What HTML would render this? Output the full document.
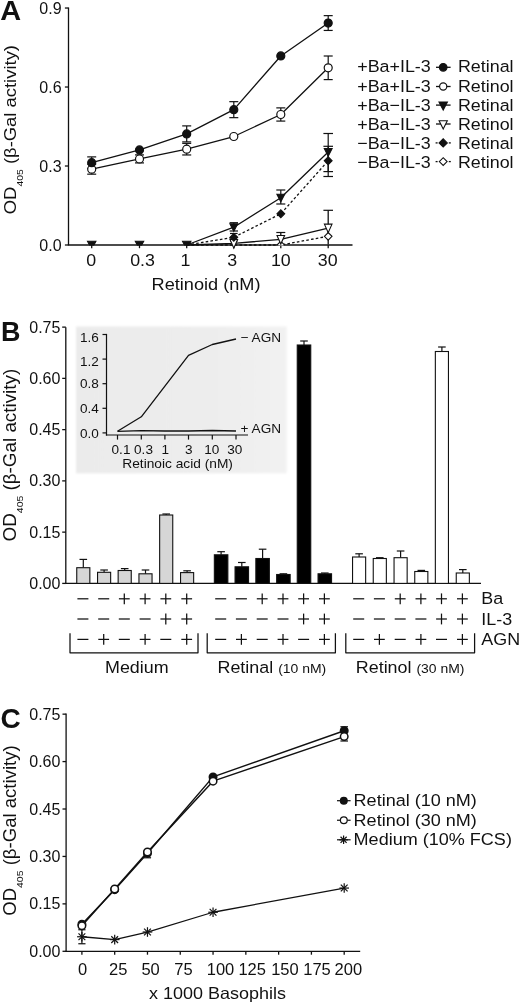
<!DOCTYPE html>
<html><head><meta charset="utf-8"><title>Figure</title>
<style>
html,body{margin:0;padding:0;background:#fff;}
svg{display:block;will-change:transform;filter:grayscale(1)}
text{font-family:"Liberation Sans", sans-serif;fill:#111}
</style></head><body>
<svg width="520" height="1004" viewBox="0 0 520 1004">
<rect x="0" y="0" width="520" height="1004" fill="#fff"/>
<text transform="translate(0.30 20.20) scale(1.05 1)" font-size="27.5" text-anchor="start" font-weight="bold">A</text>
<line x1="68.50" y1="7.50" x2="68.50" y2="245.00" stroke="#111" stroke-width="1.3" />
<line x1="67.85" y1="245.00" x2="352.50" y2="245.00" stroke="#111" stroke-width="1.3" />
<line x1="64.90" y1="8.03" x2="68.50" y2="8.03" stroke="#111" stroke-width="1.3" />
<text transform="translate(61.60 13.53) scale(1.0 1)" font-size="16.0" text-anchor="end" >0.9</text>
<line x1="64.90" y1="87.02" x2="68.50" y2="87.02" stroke="#111" stroke-width="1.3" />
<text transform="translate(61.60 92.52) scale(1.0 1)" font-size="16.0" text-anchor="end" >0.6</text>
<line x1="64.90" y1="166.01" x2="68.50" y2="166.01" stroke="#111" stroke-width="1.3" />
<text transform="translate(61.60 171.51) scale(1.0 1)" font-size="16.0" text-anchor="end" >0.3</text>
<line x1="64.90" y1="245.00" x2="68.50" y2="245.00" stroke="#111" stroke-width="1.3" />
<text transform="translate(61.60 250.50) scale(1.0 1)" font-size="16.0" text-anchor="end" >0.0</text>
<line x1="91.70" y1="245.00" x2="91.70" y2="248.20" stroke="#111" stroke-width="1.3" />
<text transform="translate(91.20 266.20) scale(1.08 1)" font-size="16.5" text-anchor="middle" >0</text>
<line x1="139.50" y1="245.00" x2="139.50" y2="248.20" stroke="#111" stroke-width="1.3" />
<text transform="translate(142.50 266.20) scale(1.08 1)" font-size="16.5" text-anchor="middle" >0.3</text>
<line x1="186.70" y1="245.00" x2="186.70" y2="248.20" stroke="#111" stroke-width="1.3" />
<text transform="translate(185.40 266.20) scale(1.08 1)" font-size="16.5" text-anchor="middle" >1</text>
<line x1="233.80" y1="245.00" x2="233.80" y2="248.20" stroke="#111" stroke-width="1.3" />
<text transform="translate(232.30 266.20) scale(1.08 1)" font-size="16.5" text-anchor="middle" >3</text>
<line x1="280.80" y1="245.00" x2="280.80" y2="248.20" stroke="#111" stroke-width="1.3" />
<text transform="translate(280.80 266.20) scale(1.08 1)" font-size="16.5" text-anchor="middle" >10</text>
<line x1="328.20" y1="245.00" x2="328.20" y2="248.20" stroke="#111" stroke-width="1.3" />
<text transform="translate(327.70 266.20) scale(1.08 1)" font-size="16.5" text-anchor="middle" >30</text>
<text transform="translate(206.00 290.00) scale(1.05 1)" font-size="17.3" text-anchor="middle" >Retinoid (nM)</text>
<text transform="translate(16.3,214.2) rotate(-90) scale(1.065 1)" font-size="17.3">OD<tspan font-size="9.8" dy="6.2">405</tspan><tspan dy="-6.2"> (β-Gal activity)</tspan></text>
<clipPath id="clipA"><rect x="60" y="0" width="300" height="245.4"/></clipPath>
<polyline points="91.70,169.17 139.50,158.90 186.70,149.16 233.80,136.52 280.80,114.48 328.20,67.80" fill="none" stroke="#111" stroke-width="1.3" stroke-linejoin="round" />
<polyline points="91.70,162.69 139.50,149.95 186.70,133.89 233.80,109.66 280.80,55.95 328.20,23.04" fill="none" stroke="#111" stroke-width="1.3" stroke-linejoin="round" />
<polyline points="186.70,245.00 233.80,227.20 280.80,197.74 328.20,152.06" fill="none" stroke="#111" stroke-width="1.3" stroke-linejoin="round" />
<polyline points="186.70,245.00 233.80,243.42 280.80,239.31 328.20,228.02" fill="none" stroke="#111" stroke-width="1.3" stroke-linejoin="round" />
<polyline points="186.70,245.00 233.80,237.31 280.80,213.80 328.20,160.74" fill="none" stroke="#111" stroke-width="1.3" stroke-linejoin="round" stroke-dasharray="2.6 2.2"/>
<polyline points="186.70,245.00 233.80,245.00 280.80,245.00 328.20,236.31" fill="none" stroke="#111" stroke-width="1.3" stroke-linejoin="round" stroke-dasharray="2.6 2.2"/>
<line x1="91.70" y1="156.89" x2="91.70" y2="168.49" stroke="#111" stroke-width="1.2" />
<line x1="87.20" y1="156.89" x2="96.20" y2="156.89" stroke="#111" stroke-width="1.2" />
<line x1="87.20" y1="168.49" x2="96.20" y2="168.49" stroke="#111" stroke-width="1.2" />
<line x1="186.70" y1="125.89" x2="186.70" y2="141.89" stroke="#111" stroke-width="1.2" />
<line x1="182.20" y1="125.89" x2="191.20" y2="125.89" stroke="#111" stroke-width="1.2" />
<line x1="182.20" y1="141.89" x2="191.20" y2="141.89" stroke="#111" stroke-width="1.2" />
<line x1="233.80" y1="101.66" x2="233.80" y2="117.66" stroke="#111" stroke-width="1.2" />
<line x1="229.30" y1="101.66" x2="238.30" y2="101.66" stroke="#111" stroke-width="1.2" />
<line x1="229.30" y1="117.66" x2="238.30" y2="117.66" stroke="#111" stroke-width="1.2" />
<line x1="328.20" y1="15.64" x2="328.20" y2="30.44" stroke="#111" stroke-width="1.2" />
<line x1="323.70" y1="15.64" x2="332.70" y2="15.64" stroke="#111" stroke-width="1.2" />
<line x1="323.70" y1="30.44" x2="332.70" y2="30.44" stroke="#111" stroke-width="1.2" />
<line x1="91.70" y1="164.17" x2="91.70" y2="174.17" stroke="#111" stroke-width="1.2" />
<line x1="87.20" y1="164.17" x2="96.20" y2="164.17" stroke="#111" stroke-width="1.2" />
<line x1="87.20" y1="174.17" x2="96.20" y2="174.17" stroke="#111" stroke-width="1.2" />
<line x1="139.50" y1="154.90" x2="139.50" y2="162.90" stroke="#111" stroke-width="1.2" />
<line x1="135.00" y1="154.90" x2="144.00" y2="154.90" stroke="#111" stroke-width="1.2" />
<line x1="135.00" y1="162.90" x2="144.00" y2="162.90" stroke="#111" stroke-width="1.2" />
<line x1="186.70" y1="143.36" x2="186.70" y2="154.96" stroke="#111" stroke-width="1.2" />
<line x1="182.20" y1="143.36" x2="191.20" y2="143.36" stroke="#111" stroke-width="1.2" />
<line x1="182.20" y1="154.96" x2="191.20" y2="154.96" stroke="#111" stroke-width="1.2" />
<line x1="280.80" y1="107.88" x2="280.80" y2="121.08" stroke="#111" stroke-width="1.2" />
<line x1="276.30" y1="107.88" x2="285.30" y2="107.88" stroke="#111" stroke-width="1.2" />
<line x1="276.30" y1="121.08" x2="285.30" y2="121.08" stroke="#111" stroke-width="1.2" />
<line x1="328.20" y1="56.00" x2="328.20" y2="79.60" stroke="#111" stroke-width="1.2" />
<line x1="323.70" y1="56.00" x2="332.70" y2="56.00" stroke="#111" stroke-width="1.2" />
<line x1="323.70" y1="79.60" x2="332.70" y2="79.60" stroke="#111" stroke-width="1.2" />
<line x1="233.80" y1="222.70" x2="233.80" y2="231.00" stroke="#111" stroke-width="1.2" />
<line x1="229.60" y1="222.70" x2="238.00" y2="222.70" stroke="#111" stroke-width="1.2" />
<line x1="229.60" y1="231.00" x2="238.00" y2="231.00" stroke="#111" stroke-width="1.2" />
<line x1="280.80" y1="190.00" x2="280.80" y2="204.00" stroke="#111" stroke-width="1.2" />
<line x1="276.30" y1="190.00" x2="285.30" y2="190.00" stroke="#111" stroke-width="1.2" />
<line x1="276.30" y1="204.00" x2="285.30" y2="204.00" stroke="#111" stroke-width="1.2" />
<line x1="328.20" y1="133.50" x2="328.20" y2="171.60" stroke="#111" stroke-width="1.2" />
<line x1="323.40" y1="133.50" x2="333.00" y2="133.50" stroke="#111" stroke-width="1.2" />
<line x1="323.40" y1="171.60" x2="333.00" y2="171.60" stroke="#111" stroke-width="1.2" />
<line x1="328.20" y1="146.30" x2="328.20" y2="176.50" stroke="#111" stroke-width="1.2" />
<line x1="323.40" y1="146.30" x2="333.00" y2="146.30" stroke="#111" stroke-width="1.2" />
<line x1="323.40" y1="176.50" x2="333.00" y2="176.50" stroke="#111" stroke-width="1.2" />
<line x1="233.80" y1="233.50" x2="233.80" y2="241.00" stroke="#111" stroke-width="1.2" />
<line x1="230.00" y1="233.50" x2="237.60" y2="233.50" stroke="#111" stroke-width="1.2" />
<line x1="230.00" y1="241.00" x2="237.60" y2="241.00" stroke="#111" stroke-width="1.2" />
<line x1="280.80" y1="232.50" x2="280.80" y2="239.00" stroke="#111" stroke-width="1.3" />
<line x1="276.30" y1="232.50" x2="285.30" y2="232.50" stroke="#111" stroke-width="1.2" />
<line x1="328.20" y1="210.30" x2="328.20" y2="227.00" stroke="#111" stroke-width="1.3" />
<line x1="323.40" y1="210.30" x2="333.00" y2="210.30" stroke="#111" stroke-width="1.2" />
<line x1="328.20" y1="228.00" x2="328.20" y2="244.50" stroke="#111" stroke-width="1.3" />
<circle cx="91.70" cy="169.17" r="4.0" fill="#fff" stroke="#111" stroke-width="1.2"/>
<circle cx="139.50" cy="158.90" r="4.0" fill="#fff" stroke="#111" stroke-width="1.2"/>
<circle cx="186.70" cy="149.16" r="4.0" fill="#fff" stroke="#111" stroke-width="1.2"/>
<circle cx="233.80" cy="136.52" r="4.0" fill="#fff" stroke="#111" stroke-width="1.2"/>
<circle cx="280.80" cy="114.48" r="4.0" fill="#fff" stroke="#111" stroke-width="1.2"/>
<circle cx="328.20" cy="67.80" r="4.0" fill="#fff" stroke="#111" stroke-width="1.2"/>
<circle cx="91.70" cy="162.69" r="4.0" fill="#111" stroke="#111" stroke-width="1.2"/>
<circle cx="139.50" cy="149.95" r="4.0" fill="#111" stroke="#111" stroke-width="1.2"/>
<circle cx="186.70" cy="133.89" r="4.0" fill="#111" stroke="#111" stroke-width="1.2"/>
<circle cx="233.80" cy="109.66" r="4.0" fill="#111" stroke="#111" stroke-width="1.2"/>
<circle cx="280.80" cy="55.95" r="4.0" fill="#111" stroke="#111" stroke-width="1.2"/>
<circle cx="328.20" cy="23.04" r="4.0" fill="#111" stroke="#111" stroke-width="1.2"/>
<polygon points="277.00,245.00 280.80,241.20 284.60,245.00 280.80,248.80" fill="#fff" stroke="#111" stroke-width="1.1" clip-path="url(#clipA)"/>
<polygon points="324.40,236.31 328.20,232.51 332.00,236.31 328.20,240.11" fill="#fff" stroke="#111" stroke-width="1.1" />
<polygon points="230.00,239.55 237.60,239.55 233.80,248.15" fill="#fff" stroke="#111" stroke-width="1.1" stroke-linejoin="miter" />
<polygon points="277.00,235.44 284.60,235.44 280.80,244.04" fill="#fff" stroke="#111" stroke-width="1.1" stroke-linejoin="miter" />
<polygon points="324.40,224.15 332.00,224.15 328.20,232.75" fill="#fff" stroke="#111" stroke-width="1.1" stroke-linejoin="miter" />
<polygon points="229.90,237.31 233.80,233.41 237.70,237.31 233.80,241.21" fill="#111" stroke="#111" stroke-width="1.1" />
<polygon points="276.90,213.80 280.80,209.90 284.70,213.80 280.80,217.70" fill="#111" stroke="#111" stroke-width="1.1" />
<polygon points="324.30,160.74 328.20,156.84 332.10,160.74 328.20,164.64" fill="#111" stroke="#111" stroke-width="1.1" />
<polygon points="87.50,241.20 95.90,241.20 91.70,249.20" fill="#111" stroke="#111" stroke-width="1.1" stroke-linejoin="miter" clip-path="url(#clipA)"/>
<polygon points="135.30,241.20 143.70,241.20 139.50,249.20" fill="#111" stroke="#111" stroke-width="1.1" stroke-linejoin="miter" clip-path="url(#clipA)"/>
<polygon points="182.50,241.20 190.90,241.20 186.70,249.20" fill="#111" stroke="#111" stroke-width="1.1" stroke-linejoin="miter" clip-path="url(#clipA)"/>
<polygon points="229.90,223.78 237.70,223.78 233.80,231.38" fill="#111" stroke="#111" stroke-width="1.1" stroke-linejoin="miter" />
<polygon points="276.90,194.32 284.70,194.32 280.80,201.92" fill="#111" stroke="#111" stroke-width="1.1" stroke-linejoin="miter" />
<polygon points="324.30,148.64 332.10,148.64 328.20,156.24" fill="#111" stroke="#111" stroke-width="1.1" stroke-linejoin="miter" />
<text transform="translate(357.20 72.40) scale(1.065 1)" font-size="16.8" text-anchor="start" >+Ba+IL-3</text>
<text transform="translate(457.90 72.40) scale(1.065 1)" font-size="16.8" text-anchor="start" >Retinal</text>
<line x1="436.00" y1="67.30" x2="450.60" y2="67.30" stroke="#111" stroke-width="1.3" />
<circle cx="443.20" cy="67.30" r="3.8" fill="#111" stroke="#111" stroke-width="1.2"/>
<text transform="translate(357.20 91.55) scale(1.065 1)" font-size="16.8" text-anchor="start" >+Ba+IL-3</text>
<text transform="translate(457.90 91.55) scale(1.065 1)" font-size="16.8" text-anchor="start" >Retinol</text>
<line x1="436.00" y1="86.50" x2="450.60" y2="86.50" stroke="#111" stroke-width="1.3" />
<circle cx="443.20" cy="86.50" r="3.6" fill="#fff" stroke="#111" stroke-width="1.2"/>
<text transform="translate(357.20 110.70) scale(1.065 1)" font-size="16.8" text-anchor="start" >+Ba−IL-3</text>
<text transform="translate(457.90 110.70) scale(1.065 1)" font-size="16.8" text-anchor="start" >Retinal</text>
<line x1="436.00" y1="105.10" x2="450.60" y2="105.10" stroke="#111" stroke-width="1.3" />
<polygon points="439.00,102.10 447.40,102.10 443.20,110.10" fill="#111" stroke="#111" stroke-width="1.1" stroke-linejoin="miter" />
<text transform="translate(357.20 129.85) scale(1.065 1)" font-size="16.8" text-anchor="start" >+Ba−IL-3</text>
<text transform="translate(457.90 129.85) scale(1.065 1)" font-size="16.8" text-anchor="start" >Retinol</text>
<line x1="436.00" y1="124.00" x2="450.60" y2="124.00" stroke="#111" stroke-width="1.3" />
<polygon points="439.10,120.71 447.30,120.71 443.20,128.91" fill="#fff" stroke="#111" stroke-width="1.1" stroke-linejoin="miter" />
<text transform="translate(357.20 149.00) scale(1.065 1)" font-size="16.8" text-anchor="start" >−Ba−IL-3</text>
<text transform="translate(457.90 149.00) scale(1.065 1)" font-size="16.8" text-anchor="start" >Retinal</text>
<line x1="435.60" y1="142.90" x2="437.60" y2="142.90" stroke="#111" stroke-width="1.3" />
<line x1="448.80" y1="142.90" x2="450.80" y2="142.90" stroke="#111" stroke-width="1.3" />
<polygon points="439.10,142.90 443.20,138.80 447.30,142.90 443.20,147.00" fill="#111" stroke="#111" stroke-width="1.1" />
<text transform="translate(357.20 168.15) scale(1.065 1)" font-size="16.8" text-anchor="start" >−Ba−IL-3</text>
<text transform="translate(457.90 168.15) scale(1.065 1)" font-size="16.8" text-anchor="start" >Retinol</text>
<line x1="435.60" y1="161.60" x2="437.60" y2="161.60" stroke="#111" stroke-width="1.3" />
<line x1="448.80" y1="161.60" x2="450.80" y2="161.60" stroke="#111" stroke-width="1.3" />
<polygon points="439.30,161.60 443.20,157.70 447.10,161.60 443.20,165.50" fill="#fff" stroke="#111" stroke-width="1.1" />
<text transform="translate(1.00 341.20) scale(0.98 1)" font-size="27.5" text-anchor="start" font-weight="bold">B</text>
<defs><linearGradient id="ig" x1="0" y1="0" x2="1" y2="0"><stop offset="0" stop-color="#ebebeb"/><stop offset="0.65" stop-color="#ededed"/><stop offset="1" stop-color="#f2f2f2"/></linearGradient><filter id="soft" x="-5%" y="-5%" width="110%" height="110%"><feGaussianBlur stdDeviation="0.9"/></filter></defs>
<rect x="76" y="326.5" width="210.8" height="146.8" fill="url(#ig)" filter="url(#soft)"/>
<line x1="65.80" y1="327.20" x2="65.80" y2="583.40" stroke="#111" stroke-width="1.3" />
<line x1="65.15" y1="583.40" x2="481.00" y2="583.40" stroke="#111" stroke-width="1.3" />
<line x1="62.20" y1="327.12" x2="65.80" y2="327.12" stroke="#111" stroke-width="1.3" />
<text transform="translate(60.40 332.62) scale(1.0 1)" font-size="16.0" text-anchor="end" >0.75</text>
<line x1="62.20" y1="378.38" x2="65.80" y2="378.38" stroke="#111" stroke-width="1.3" />
<text transform="translate(60.40 383.88) scale(1.0 1)" font-size="16.0" text-anchor="end" >0.60</text>
<line x1="62.20" y1="429.63" x2="65.80" y2="429.63" stroke="#111" stroke-width="1.3" />
<text transform="translate(60.40 435.13) scale(1.0 1)" font-size="16.0" text-anchor="end" >0.45</text>
<line x1="62.20" y1="480.89" x2="65.80" y2="480.89" stroke="#111" stroke-width="1.3" />
<text transform="translate(60.40 486.39) scale(1.0 1)" font-size="16.0" text-anchor="end" >0.30</text>
<line x1="62.20" y1="532.14" x2="65.80" y2="532.14" stroke="#111" stroke-width="1.3" />
<text transform="translate(60.40 537.64) scale(1.0 1)" font-size="16.0" text-anchor="end" >0.15</text>
<line x1="62.20" y1="583.40" x2="65.80" y2="583.40" stroke="#111" stroke-width="1.3" />
<text transform="translate(60.40 588.90) scale(1.0 1)" font-size="16.0" text-anchor="end" >0.00</text>
<text transform="translate(16.4,541.4) rotate(-90) scale(1.065 1)" font-size="17.7">OD<tspan font-size="9.8" dy="6.2">405</tspan><tspan dy="-6.2"> (β-Gal activity)</tspan></text>
<line x1="83.30" y1="559.40" x2="83.30" y2="567.70" stroke="#111" stroke-width="1.2" />
<line x1="79.50" y1="559.40" x2="87.10" y2="559.40" stroke="#111" stroke-width="1.2" />
<rect x="76.75" y="567.70" width="13.10" height="15.70" fill="#d6d6d6" stroke="#111" stroke-width="1.1"/>
<line x1="104.10" y1="570.00" x2="104.10" y2="572.30" stroke="#111" stroke-width="1.2" />
<line x1="100.30" y1="570.00" x2="107.90" y2="570.00" stroke="#111" stroke-width="1.2" />
<rect x="97.55" y="572.30" width="13.10" height="11.10" fill="#d6d6d6" stroke="#111" stroke-width="1.1"/>
<line x1="124.70" y1="568.60" x2="124.70" y2="570.50" stroke="#111" stroke-width="1.2" />
<line x1="120.90" y1="568.60" x2="128.50" y2="568.60" stroke="#111" stroke-width="1.2" />
<rect x="118.15" y="570.50" width="13.10" height="12.90" fill="#d6d6d6" stroke="#111" stroke-width="1.1"/>
<line x1="145.50" y1="570.00" x2="145.50" y2="573.80" stroke="#111" stroke-width="1.2" />
<line x1="141.70" y1="570.00" x2="149.30" y2="570.00" stroke="#111" stroke-width="1.2" />
<rect x="138.95" y="573.80" width="13.10" height="9.60" fill="#d6d6d6" stroke="#111" stroke-width="1.1"/>
<line x1="166.20" y1="514.00" x2="166.20" y2="515.00" stroke="#111" stroke-width="1.2" />
<line x1="162.40" y1="514.00" x2="170.00" y2="514.00" stroke="#111" stroke-width="1.2" />
<rect x="159.65" y="515.00" width="13.10" height="68.40" fill="#d6d6d6" stroke="#111" stroke-width="1.1"/>
<line x1="187.10" y1="570.80" x2="187.10" y2="572.60" stroke="#111" stroke-width="1.2" />
<line x1="183.30" y1="570.80" x2="190.90" y2="570.80" stroke="#111" stroke-width="1.2" />
<rect x="180.55" y="572.60" width="13.10" height="10.80" fill="#d6d6d6" stroke="#111" stroke-width="1.1"/>
<line x1="221.10" y1="551.70" x2="221.10" y2="554.80" stroke="#111" stroke-width="1.2" />
<line x1="217.30" y1="551.70" x2="224.90" y2="551.70" stroke="#111" stroke-width="1.2" />
<rect x="214.35" y="554.80" width="13.50" height="28.60" fill="#000" stroke="#111" stroke-width="1.1"/>
<line x1="241.80" y1="562.50" x2="241.80" y2="566.80" stroke="#111" stroke-width="1.2" />
<line x1="238.00" y1="562.50" x2="245.60" y2="562.50" stroke="#111" stroke-width="1.2" />
<rect x="235.05" y="566.80" width="13.50" height="16.60" fill="#000" stroke="#111" stroke-width="1.1"/>
<line x1="262.60" y1="549.20" x2="262.60" y2="558.50" stroke="#111" stroke-width="1.2" />
<line x1="258.80" y1="549.20" x2="266.40" y2="549.20" stroke="#111" stroke-width="1.2" />
<rect x="255.85" y="558.50" width="13.50" height="24.90" fill="#000" stroke="#111" stroke-width="1.1"/>
<line x1="283.40" y1="573.80" x2="283.40" y2="574.50" stroke="#111" stroke-width="1.2" />
<line x1="279.60" y1="573.80" x2="287.20" y2="573.80" stroke="#111" stroke-width="1.2" />
<rect x="276.65" y="574.50" width="13.50" height="8.90" fill="#000" stroke="#111" stroke-width="1.1"/>
<line x1="304.00" y1="341.00" x2="304.00" y2="345.00" stroke="#111" stroke-width="1.2" />
<line x1="300.20" y1="341.00" x2="307.80" y2="341.00" stroke="#111" stroke-width="1.2" />
<rect x="297.25" y="345.00" width="13.50" height="238.40" fill="#000" stroke="#111" stroke-width="1.1"/>
<line x1="324.80" y1="573.00" x2="324.80" y2="573.80" stroke="#111" stroke-width="1.2" />
<line x1="321.00" y1="573.00" x2="328.60" y2="573.00" stroke="#111" stroke-width="1.2" />
<rect x="318.05" y="573.80" width="13.50" height="9.60" fill="#000" stroke="#111" stroke-width="1.1"/>
<line x1="359.10" y1="553.80" x2="359.10" y2="557.00" stroke="#111" stroke-width="1.2" />
<line x1="355.30" y1="553.80" x2="362.90" y2="553.80" stroke="#111" stroke-width="1.2" />
<rect x="352.55" y="557.00" width="13.10" height="26.40" fill="#fff" stroke="#111" stroke-width="1.1"/>
<line x1="379.80" y1="557.70" x2="379.80" y2="558.50" stroke="#111" stroke-width="1.2" />
<line x1="376.00" y1="557.70" x2="383.60" y2="557.70" stroke="#111" stroke-width="1.2" />
<rect x="373.25" y="558.50" width="13.10" height="24.90" fill="#fff" stroke="#111" stroke-width="1.1"/>
<line x1="400.60" y1="551.00" x2="400.60" y2="557.70" stroke="#111" stroke-width="1.2" />
<line x1="396.80" y1="551.00" x2="404.40" y2="551.00" stroke="#111" stroke-width="1.2" />
<rect x="394.05" y="557.70" width="13.10" height="25.70" fill="#fff" stroke="#111" stroke-width="1.1"/>
<line x1="421.30" y1="570.40" x2="421.30" y2="571.50" stroke="#111" stroke-width="1.2" />
<line x1="417.50" y1="570.40" x2="425.10" y2="570.40" stroke="#111" stroke-width="1.2" />
<rect x="414.75" y="571.50" width="13.10" height="11.90" fill="#fff" stroke="#111" stroke-width="1.1"/>
<line x1="441.90" y1="347.00" x2="441.90" y2="351.50" stroke="#111" stroke-width="1.2" />
<line x1="438.10" y1="347.00" x2="445.70" y2="347.00" stroke="#111" stroke-width="1.2" />
<rect x="435.35" y="351.50" width="13.10" height="231.90" fill="#fff" stroke="#111" stroke-width="1.1"/>
<line x1="462.80" y1="569.60" x2="462.80" y2="573.00" stroke="#111" stroke-width="1.2" />
<line x1="459.00" y1="569.60" x2="466.60" y2="569.60" stroke="#111" stroke-width="1.2" />
<rect x="456.25" y="573.00" width="13.10" height="10.40" fill="#fff" stroke="#111" stroke-width="1.1"/>
<line x1="77.40" y1="598.80" x2="88.40" y2="598.80" stroke="#111" stroke-width="1.25" />
<line x1="77.40" y1="619.00" x2="88.40" y2="619.00" stroke="#111" stroke-width="1.25" />
<line x1="77.40" y1="639.40" x2="88.40" y2="639.40" stroke="#111" stroke-width="1.25" />
<line x1="98.20" y1="598.80" x2="109.20" y2="598.80" stroke="#111" stroke-width="1.25" />
<line x1="98.20" y1="619.00" x2="109.20" y2="619.00" stroke="#111" stroke-width="1.25" />
<line x1="98.30" y1="639.40" x2="109.10" y2="639.40" stroke="#111" stroke-width="1.25" />
<line x1="103.70" y1="634.00" x2="103.70" y2="644.80" stroke="#111" stroke-width="1.25" />
<line x1="118.90" y1="598.80" x2="129.70" y2="598.80" stroke="#111" stroke-width="1.25" />
<line x1="124.30" y1="593.40" x2="124.30" y2="604.20" stroke="#111" stroke-width="1.25" />
<line x1="118.80" y1="619.00" x2="129.80" y2="619.00" stroke="#111" stroke-width="1.25" />
<line x1="118.80" y1="639.40" x2="129.80" y2="639.40" stroke="#111" stroke-width="1.25" />
<line x1="139.70" y1="598.80" x2="150.50" y2="598.80" stroke="#111" stroke-width="1.25" />
<line x1="145.10" y1="593.40" x2="145.10" y2="604.20" stroke="#111" stroke-width="1.25" />
<line x1="139.60" y1="619.00" x2="150.60" y2="619.00" stroke="#111" stroke-width="1.25" />
<line x1="139.70" y1="639.40" x2="150.50" y2="639.40" stroke="#111" stroke-width="1.25" />
<line x1="145.10" y1="634.00" x2="145.10" y2="644.80" stroke="#111" stroke-width="1.25" />
<line x1="160.40" y1="598.80" x2="171.20" y2="598.80" stroke="#111" stroke-width="1.25" />
<line x1="165.80" y1="593.40" x2="165.80" y2="604.20" stroke="#111" stroke-width="1.25" />
<line x1="160.40" y1="619.00" x2="171.20" y2="619.00" stroke="#111" stroke-width="1.25" />
<line x1="165.80" y1="613.60" x2="165.80" y2="624.40" stroke="#111" stroke-width="1.25" />
<line x1="160.30" y1="639.40" x2="171.30" y2="639.40" stroke="#111" stroke-width="1.25" />
<line x1="181.30" y1="598.80" x2="192.10" y2="598.80" stroke="#111" stroke-width="1.25" />
<line x1="186.70" y1="593.40" x2="186.70" y2="604.20" stroke="#111" stroke-width="1.25" />
<line x1="181.30" y1="619.00" x2="192.10" y2="619.00" stroke="#111" stroke-width="1.25" />
<line x1="186.70" y1="613.60" x2="186.70" y2="624.40" stroke="#111" stroke-width="1.25" />
<line x1="181.30" y1="639.40" x2="192.10" y2="639.40" stroke="#111" stroke-width="1.25" />
<line x1="186.70" y1="634.00" x2="186.70" y2="644.80" stroke="#111" stroke-width="1.25" />
<line x1="215.20" y1="598.80" x2="226.20" y2="598.80" stroke="#111" stroke-width="1.25" />
<line x1="215.20" y1="619.00" x2="226.20" y2="619.00" stroke="#111" stroke-width="1.25" />
<line x1="215.20" y1="639.40" x2="226.20" y2="639.40" stroke="#111" stroke-width="1.25" />
<line x1="235.90" y1="598.80" x2="246.90" y2="598.80" stroke="#111" stroke-width="1.25" />
<line x1="235.90" y1="619.00" x2="246.90" y2="619.00" stroke="#111" stroke-width="1.25" />
<line x1="236.00" y1="639.40" x2="246.80" y2="639.40" stroke="#111" stroke-width="1.25" />
<line x1="241.40" y1="634.00" x2="241.40" y2="644.80" stroke="#111" stroke-width="1.25" />
<line x1="256.80" y1="598.80" x2="267.60" y2="598.80" stroke="#111" stroke-width="1.25" />
<line x1="262.20" y1="593.40" x2="262.20" y2="604.20" stroke="#111" stroke-width="1.25" />
<line x1="256.70" y1="619.00" x2="267.70" y2="619.00" stroke="#111" stroke-width="1.25" />
<line x1="256.70" y1="639.40" x2="267.70" y2="639.40" stroke="#111" stroke-width="1.25" />
<line x1="277.60" y1="598.80" x2="288.40" y2="598.80" stroke="#111" stroke-width="1.25" />
<line x1="283.00" y1="593.40" x2="283.00" y2="604.20" stroke="#111" stroke-width="1.25" />
<line x1="277.50" y1="619.00" x2="288.50" y2="619.00" stroke="#111" stroke-width="1.25" />
<line x1="277.60" y1="639.40" x2="288.40" y2="639.40" stroke="#111" stroke-width="1.25" />
<line x1="283.00" y1="634.00" x2="283.00" y2="644.80" stroke="#111" stroke-width="1.25" />
<line x1="298.20" y1="598.80" x2="309.00" y2="598.80" stroke="#111" stroke-width="1.25" />
<line x1="303.60" y1="593.40" x2="303.60" y2="604.20" stroke="#111" stroke-width="1.25" />
<line x1="298.20" y1="619.00" x2="309.00" y2="619.00" stroke="#111" stroke-width="1.25" />
<line x1="303.60" y1="613.60" x2="303.60" y2="624.40" stroke="#111" stroke-width="1.25" />
<line x1="298.10" y1="639.40" x2="309.10" y2="639.40" stroke="#111" stroke-width="1.25" />
<line x1="319.00" y1="598.80" x2="329.80" y2="598.80" stroke="#111" stroke-width="1.25" />
<line x1="324.40" y1="593.40" x2="324.40" y2="604.20" stroke="#111" stroke-width="1.25" />
<line x1="319.00" y1="619.00" x2="329.80" y2="619.00" stroke="#111" stroke-width="1.25" />
<line x1="324.40" y1="613.60" x2="324.40" y2="624.40" stroke="#111" stroke-width="1.25" />
<line x1="319.00" y1="639.40" x2="329.80" y2="639.40" stroke="#111" stroke-width="1.25" />
<line x1="324.40" y1="634.00" x2="324.40" y2="644.80" stroke="#111" stroke-width="1.25" />
<line x1="353.20" y1="598.80" x2="364.20" y2="598.80" stroke="#111" stroke-width="1.25" />
<line x1="353.20" y1="619.00" x2="364.20" y2="619.00" stroke="#111" stroke-width="1.25" />
<line x1="353.20" y1="639.40" x2="364.20" y2="639.40" stroke="#111" stroke-width="1.25" />
<line x1="373.90" y1="598.80" x2="384.90" y2="598.80" stroke="#111" stroke-width="1.25" />
<line x1="373.90" y1="619.00" x2="384.90" y2="619.00" stroke="#111" stroke-width="1.25" />
<line x1="374.00" y1="639.40" x2="384.80" y2="639.40" stroke="#111" stroke-width="1.25" />
<line x1="379.40" y1="634.00" x2="379.40" y2="644.80" stroke="#111" stroke-width="1.25" />
<line x1="394.80" y1="598.80" x2="405.60" y2="598.80" stroke="#111" stroke-width="1.25" />
<line x1="400.20" y1="593.40" x2="400.20" y2="604.20" stroke="#111" stroke-width="1.25" />
<line x1="394.70" y1="619.00" x2="405.70" y2="619.00" stroke="#111" stroke-width="1.25" />
<line x1="394.70" y1="639.40" x2="405.70" y2="639.40" stroke="#111" stroke-width="1.25" />
<line x1="415.50" y1="598.80" x2="426.30" y2="598.80" stroke="#111" stroke-width="1.25" />
<line x1="420.90" y1="593.40" x2="420.90" y2="604.20" stroke="#111" stroke-width="1.25" />
<line x1="415.40" y1="619.00" x2="426.40" y2="619.00" stroke="#111" stroke-width="1.25" />
<line x1="415.50" y1="639.40" x2="426.30" y2="639.40" stroke="#111" stroke-width="1.25" />
<line x1="420.90" y1="634.00" x2="420.90" y2="644.80" stroke="#111" stroke-width="1.25" />
<line x1="436.10" y1="598.80" x2="446.90" y2="598.80" stroke="#111" stroke-width="1.25" />
<line x1="441.50" y1="593.40" x2="441.50" y2="604.20" stroke="#111" stroke-width="1.25" />
<line x1="436.10" y1="619.00" x2="446.90" y2="619.00" stroke="#111" stroke-width="1.25" />
<line x1="441.50" y1="613.60" x2="441.50" y2="624.40" stroke="#111" stroke-width="1.25" />
<line x1="436.00" y1="639.40" x2="447.00" y2="639.40" stroke="#111" stroke-width="1.25" />
<line x1="457.00" y1="598.80" x2="467.80" y2="598.80" stroke="#111" stroke-width="1.25" />
<line x1="462.40" y1="593.40" x2="462.40" y2="604.20" stroke="#111" stroke-width="1.25" />
<line x1="457.00" y1="619.00" x2="467.80" y2="619.00" stroke="#111" stroke-width="1.25" />
<line x1="462.40" y1="613.60" x2="462.40" y2="624.40" stroke="#111" stroke-width="1.25" />
<line x1="457.00" y1="639.40" x2="467.80" y2="639.40" stroke="#111" stroke-width="1.25" />
<line x1="462.40" y1="634.00" x2="462.40" y2="644.80" stroke="#111" stroke-width="1.25" />
<polyline points="70.00,633.20 70.00,652.80 198.00,652.80 198.00,633.20" fill="none" stroke="#111" stroke-width="1.25" stroke-linejoin="round" stroke-linejoin="miter"/>
<polyline points="207.20,633.20 207.20,652.80 335.40,652.80 335.40,633.20" fill="none" stroke="#111" stroke-width="1.25" stroke-linejoin="round" stroke-linejoin="miter"/>
<polyline points="345.80,633.20 345.80,652.80 474.60,652.80 474.60,633.20" fill="none" stroke="#111" stroke-width="1.25" stroke-linejoin="round" stroke-linejoin="miter"/>
<text transform="translate(481.30 604.30) scale(1.065 1)" font-size="16.8" text-anchor="start" >Ba</text>
<text transform="translate(481.30 624.50) scale(1.065 1)" font-size="16.8" text-anchor="start" >IL-3</text>
<text transform="translate(481.30 645.00) scale(1.065 1)" font-size="16.8" text-anchor="start" >AGN</text>
<text transform="translate(136.80 672.50) scale(1.065 1)" font-size="16.8" text-anchor="middle" >Medium</text>
<text transform="translate(217.50 672.50) scale(1.065 1)" font-size="16.8" text-anchor="start" >Retinal <tspan font-size="13.1">(10 nM)</tspan></text>
<text transform="translate(355.80 672.50) scale(1.065 1)" font-size="16.8" text-anchor="start" >Retinol <tspan font-size="13.1">(30 nM)</tspan></text>
<line x1="106.50" y1="333.90" x2="106.50" y2="435.60" stroke="#111" stroke-width="1.2" />
<line x1="105.90" y1="435.00" x2="248.00" y2="435.00" stroke="#111" stroke-width="1.2" />
<line x1="102.50" y1="334.50" x2="106.50" y2="334.50" stroke="#111" stroke-width="1.2" />
<text transform="translate(98.80 342.00) scale(1.03 1)" font-size="13.2" text-anchor="end" >1.6</text>
<line x1="102.50" y1="359.10" x2="106.50" y2="359.10" stroke="#111" stroke-width="1.2" />
<text transform="translate(98.80 365.80) scale(1.03 1)" font-size="13.2" text-anchor="end" >1.2</text>
<line x1="102.50" y1="383.70" x2="106.50" y2="383.70" stroke="#111" stroke-width="1.2" />
<text transform="translate(98.80 388.30) scale(1.03 1)" font-size="13.2" text-anchor="end" >0.8</text>
<line x1="102.50" y1="408.30" x2="106.50" y2="408.30" stroke="#111" stroke-width="1.2" />
<text transform="translate(98.80 412.90) scale(1.03 1)" font-size="13.2" text-anchor="end" >0.4</text>
<line x1="102.50" y1="432.90" x2="106.50" y2="432.90" stroke="#111" stroke-width="1.2" />
<text transform="translate(98.80 437.60) scale(1.03 1)" font-size="13.2" text-anchor="end" >0.0</text>
<line x1="117.50" y1="435.00" x2="117.50" y2="439.60" stroke="#111" stroke-width="1.2" />
<text transform="translate(121.00 453.60) scale(1.03 1)" font-size="13.2" text-anchor="middle" >0.1</text>
<line x1="141.30" y1="435.00" x2="141.30" y2="439.60" stroke="#111" stroke-width="1.2" />
<text transform="translate(143.50 453.60) scale(1.03 1)" font-size="13.2" text-anchor="middle" >0.3</text>
<line x1="164.90" y1="435.00" x2="164.90" y2="439.60" stroke="#111" stroke-width="1.2" />
<text transform="translate(165.20 453.60) scale(1.03 1)" font-size="13.2" text-anchor="middle" >1</text>
<line x1="188.50" y1="435.00" x2="188.50" y2="439.60" stroke="#111" stroke-width="1.2" />
<text transform="translate(188.70 453.60) scale(1.03 1)" font-size="13.2" text-anchor="middle" >3</text>
<line x1="212.30" y1="435.00" x2="212.30" y2="439.60" stroke="#111" stroke-width="1.2" />
<text transform="translate(211.80 453.60) scale(1.03 1)" font-size="13.2" text-anchor="middle" >10</text>
<line x1="236.00" y1="435.00" x2="236.00" y2="439.60" stroke="#111" stroke-width="1.2" />
<text transform="translate(234.80 453.60) scale(1.03 1)" font-size="13.2" text-anchor="middle" >30</text>
<text transform="translate(177.60 468.00) scale(1.065 1)" font-size="12.9" text-anchor="middle" >Retinoic acid (nM)</text>
<polyline points="117.50,431.20 141.30,416.80 188.50,355.40 212.30,344.50 236.00,339.00" fill="none" stroke="#111" stroke-width="1.3" stroke-linejoin="round" />
<polyline points="117.50,431.30 141.30,430.60 164.90,431.00 188.50,431.00 212.30,430.50 236.00,431.00" fill="none" stroke="#111" stroke-width="1.3" stroke-linejoin="round" />
<text transform="translate(240.60 341.60) scale(1.065 1)" font-size="12.8" text-anchor="start" >− AGN</text>
<text transform="translate(240.60 433.00) scale(1.065 1)" font-size="12.8" text-anchor="start" >+ AGN</text>
<text transform="translate(0.60 728.00) scale(1.02 1)" font-size="27.5" text-anchor="start" font-weight="bold">C</text>
<line x1="66.10" y1="713.60" x2="66.10" y2="951.30" stroke="#111" stroke-width="1.3" />
<line x1="65.45" y1="951.30" x2="360.20" y2="951.30" stroke="#111" stroke-width="1.3" />
<line x1="62.50" y1="714.15" x2="66.10" y2="714.15" stroke="#111" stroke-width="1.3" />
<text transform="translate(60.40 719.65) scale(1.0 1)" font-size="16.0" text-anchor="end" >0.75</text>
<line x1="62.50" y1="761.58" x2="66.10" y2="761.58" stroke="#111" stroke-width="1.3" />
<text transform="translate(60.40 767.08) scale(1.0 1)" font-size="16.0" text-anchor="end" >0.60</text>
<line x1="62.50" y1="809.01" x2="66.10" y2="809.01" stroke="#111" stroke-width="1.3" />
<text transform="translate(60.40 814.51) scale(1.0 1)" font-size="16.0" text-anchor="end" >0.45</text>
<line x1="62.50" y1="856.44" x2="66.10" y2="856.44" stroke="#111" stroke-width="1.3" />
<text transform="translate(60.40 861.94) scale(1.0 1)" font-size="16.0" text-anchor="end" >0.30</text>
<line x1="62.50" y1="903.87" x2="66.10" y2="903.87" stroke="#111" stroke-width="1.3" />
<text transform="translate(60.40 909.37) scale(1.0 1)" font-size="16.0" text-anchor="end" >0.15</text>
<line x1="62.50" y1="951.30" x2="66.10" y2="951.30" stroke="#111" stroke-width="1.3" />
<text transform="translate(60.40 956.80) scale(1.0 1)" font-size="16.0" text-anchor="end" >0.00</text>
<text transform="translate(16.4,915.8) rotate(-90) scale(1.065 1)" font-size="17.45">OD<tspan font-size="9.8" dy="6.2">405</tspan><tspan dy="-6.2"> (β-Gal activity)</tspan></text>
<line x1="81.90" y1="951.30" x2="81.90" y2="954.70" stroke="#111" stroke-width="1.3" />
<text transform="translate(82.60 975.20) scale(1.0 1)" font-size="16.5" text-anchor="middle" >0</text>
<line x1="114.69" y1="951.30" x2="114.69" y2="954.70" stroke="#111" stroke-width="1.3" />
<text transform="translate(118.20 975.20) scale(1.0 1)" font-size="16.5" text-anchor="middle" >25</text>
<line x1="147.47" y1="951.30" x2="147.47" y2="954.70" stroke="#111" stroke-width="1.3" />
<text transform="translate(150.60 975.20) scale(1.0 1)" font-size="16.5" text-anchor="middle" >50</text>
<line x1="180.26" y1="951.30" x2="180.26" y2="954.70" stroke="#111" stroke-width="1.3" />
<text transform="translate(183.40 975.20) scale(1.0 1)" font-size="16.5" text-anchor="middle" >75</text>
<line x1="213.05" y1="951.30" x2="213.05" y2="954.70" stroke="#111" stroke-width="1.3" />
<text transform="translate(220.50 975.20) scale(1.0 1)" font-size="16.5" text-anchor="middle" >100</text>
<line x1="245.84" y1="951.30" x2="245.84" y2="954.70" stroke="#111" stroke-width="1.3" />
<text transform="translate(252.20 975.20) scale(1.0 1)" font-size="16.5" text-anchor="middle" >125</text>
<line x1="278.62" y1="951.30" x2="278.62" y2="954.70" stroke="#111" stroke-width="1.3" />
<text transform="translate(284.90 975.20) scale(1.0 1)" font-size="16.5" text-anchor="middle" >150</text>
<line x1="311.41" y1="951.30" x2="311.41" y2="954.70" stroke="#111" stroke-width="1.3" />
<text transform="translate(317.00 975.20) scale(1.0 1)" font-size="16.5" text-anchor="middle" >175</text>
<line x1="344.20" y1="951.30" x2="344.20" y2="954.70" stroke="#111" stroke-width="1.3" />
<text transform="translate(348.30 975.20) scale(1.0 1)" font-size="16.5" text-anchor="middle" >200</text>
<text transform="translate(149.00 998.50) scale(1.065 1)" font-size="16.9" text-anchor="start" >x 1000 Basophils</text>
<polyline points="81.90,936.75 114.69,939.60 147.47,932.01 213.05,912.25 344.20,888.06" fill="none" stroke="#111" stroke-width="1.3" stroke-linejoin="round" />
<polyline points="81.90,924.26 114.69,889.64 147.47,853.28 213.05,776.88 344.20,730.75" fill="none" stroke="#111" stroke-width="1.45" stroke-linejoin="round" />
<polyline points="81.90,925.85 114.69,889.01 147.47,852.01 213.05,781.18 344.20,736.60" fill="none" stroke="#111" stroke-width="1.45" stroke-linejoin="round" />
<line x1="81.90" y1="929.75" x2="81.90" y2="943.75" stroke="#111" stroke-width="1.2" />
<line x1="78.30" y1="929.75" x2="85.50" y2="929.75" stroke="#111" stroke-width="1.2" />
<line x1="78.30" y1="943.75" x2="85.50" y2="943.75" stroke="#111" stroke-width="1.2" />
<line x1="147.47" y1="850.28" x2="147.47" y2="857.78" stroke="#111" stroke-width="1.2" />
<line x1="143.88" y1="850.28" x2="151.07" y2="850.28" stroke="#111" stroke-width="1.2" />
<line x1="143.88" y1="857.78" x2="151.07" y2="857.78" stroke="#111" stroke-width="1.2" />
<line x1="344.20" y1="726.75" x2="344.20" y2="741.00" stroke="#111" stroke-width="1.2" />
<line x1="340.40" y1="726.75" x2="348.00" y2="726.75" stroke="#111" stroke-width="1.2" />
<line x1="340.40" y1="741.00" x2="348.00" y2="741.00" stroke="#111" stroke-width="1.2" />
<line x1="77.10" y1="936.75" x2="86.70" y2="936.75" stroke="#111" stroke-width="1.2" />
<line x1="78.51" y1="933.36" x2="85.29" y2="940.15" stroke="#111" stroke-width="1.2" />
<line x1="81.90" y1="931.95" x2="81.90" y2="941.55" stroke="#111" stroke-width="1.2" />
<line x1="85.29" y1="933.36" x2="78.51" y2="940.15" stroke="#111" stroke-width="1.2" />
<line x1="109.89" y1="939.60" x2="119.49" y2="939.60" stroke="#111" stroke-width="1.2" />
<line x1="111.29" y1="936.21" x2="118.08" y2="942.99" stroke="#111" stroke-width="1.2" />
<line x1="114.69" y1="934.80" x2="114.69" y2="944.40" stroke="#111" stroke-width="1.2" />
<line x1="118.08" y1="936.21" x2="111.29" y2="942.99" stroke="#111" stroke-width="1.2" />
<line x1="142.67" y1="932.01" x2="152.28" y2="932.01" stroke="#111" stroke-width="1.2" />
<line x1="144.08" y1="928.62" x2="150.87" y2="935.41" stroke="#111" stroke-width="1.2" />
<line x1="147.47" y1="927.21" x2="147.47" y2="936.81" stroke="#111" stroke-width="1.2" />
<line x1="150.87" y1="928.62" x2="144.08" y2="935.41" stroke="#111" stroke-width="1.2" />
<line x1="208.25" y1="912.25" x2="217.85" y2="912.25" stroke="#111" stroke-width="1.2" />
<line x1="209.66" y1="908.86" x2="216.44" y2="915.64" stroke="#111" stroke-width="1.2" />
<line x1="213.05" y1="907.45" x2="213.05" y2="917.05" stroke="#111" stroke-width="1.2" />
<line x1="216.44" y1="908.86" x2="209.66" y2="915.64" stroke="#111" stroke-width="1.2" />
<line x1="339.40" y1="888.06" x2="349.00" y2="888.06" stroke="#111" stroke-width="1.2" />
<line x1="340.81" y1="884.67" x2="347.59" y2="891.45" stroke="#111" stroke-width="1.2" />
<line x1="344.20" y1="883.26" x2="344.20" y2="892.86" stroke="#111" stroke-width="1.2" />
<line x1="347.59" y1="884.67" x2="340.81" y2="891.45" stroke="#111" stroke-width="1.2" />
<circle cx="81.90" cy="924.26" r="3.75" fill="#111" stroke="#111" stroke-width="1.5"/>
<circle cx="114.69" cy="889.64" r="3.75" fill="#111" stroke="#111" stroke-width="1.5"/>
<circle cx="147.47" cy="853.28" r="3.75" fill="#111" stroke="#111" stroke-width="1.5"/>
<circle cx="213.05" cy="776.88" r="3.75" fill="#111" stroke="#111" stroke-width="1.5"/>
<circle cx="344.20" cy="730.75" r="3.75" fill="#111" stroke="#111" stroke-width="1.5"/>
<circle cx="81.90" cy="925.85" r="3.75" fill="#fff" stroke="#111" stroke-width="1.5"/>
<circle cx="114.69" cy="889.01" r="3.75" fill="#fff" stroke="#111" stroke-width="1.5"/>
<circle cx="147.47" cy="852.01" r="3.75" fill="#fff" stroke="#111" stroke-width="1.5"/>
<circle cx="213.05" cy="781.18" r="3.75" fill="#fff" stroke="#111" stroke-width="1.5"/>
<circle cx="344.20" cy="736.60" r="3.75" fill="#fff" stroke="#111" stroke-width="1.5"/>
<text transform="translate(353.60 806.30) scale(1.08 1)" font-size="16.7" text-anchor="start" >Retinal (10 nM)</text>
<line x1="337.00" y1="800.70" x2="350.60" y2="800.70" stroke="#111" stroke-width="1.2" />
<circle cx="343.80" cy="800.70" r="3.4" fill="#111" stroke="#111" stroke-width="1.2"/>
<text transform="translate(353.60 825.85) scale(1.08 1)" font-size="16.7" text-anchor="start" >Retinol (30 nM)</text>
<line x1="337.00" y1="820.25" x2="350.60" y2="820.25" stroke="#111" stroke-width="1.2" />
<circle cx="343.80" cy="820.25" r="3.4" fill="#fff" stroke="#111" stroke-width="1.2"/>
<text transform="translate(353.60 845.40) scale(1.08 1)" font-size="16.7" text-anchor="start" >Medium (10% FCS)</text>
<line x1="337.00" y1="839.80" x2="350.60" y2="839.80" stroke="#111" stroke-width="1.2" />
<line x1="339.30" y1="839.80" x2="347.90" y2="839.80" stroke="#111" stroke-width="1.2" />
<line x1="340.56" y1="836.76" x2="346.64" y2="842.84" stroke="#111" stroke-width="1.2" />
<line x1="343.60" y1="835.50" x2="343.60" y2="844.10" stroke="#111" stroke-width="1.2" />
<line x1="346.64" y1="836.76" x2="340.56" y2="842.84" stroke="#111" stroke-width="1.2" />
</svg>
</body></html>
